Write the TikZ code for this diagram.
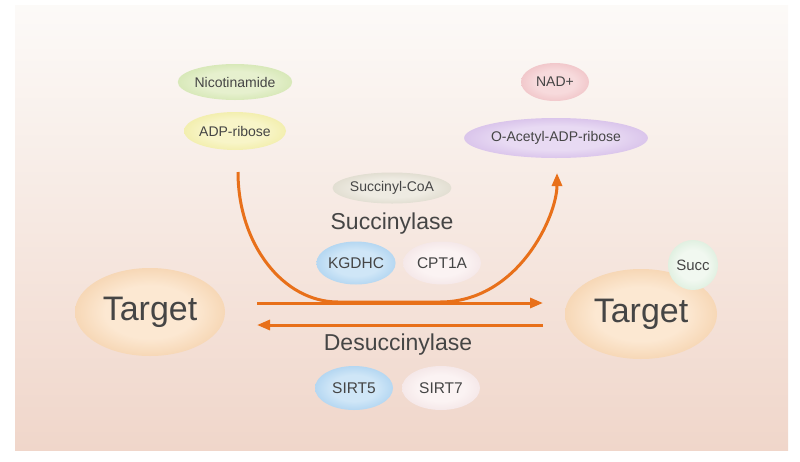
\documentclass[tikz,border=0pt]{standalone}
\usepackage{fontspec}
\setmainfont{Liberation Sans}
\usetikzlibrary{shapes.geometric,arrows.meta}
\definecolor{txt}{HTML}{454545}
\definecolor{arr}{HTML}{E8701A}
\definecolor{bgTop}{HTML}{FCFAF8}
\definecolor{bgBot}{HTML}{F0D6CA}
\definecolor{tgIn}{HTML}{FCE8D2}
\definecolor{tgOut}{HTML}{E9AE70}
\definecolor{grIn}{HTML}{E6F0CE}
\definecolor{grOut}{HTML}{B5D684}
\definecolor{yeIn}{HTML}{F8F5C8}
\definecolor{yeOut}{HTML}{E6DF72}
\definecolor{piIn}{HTML}{F7DADC}
\definecolor{piOut}{HTML}{E49CA2}
\definecolor{vioIn}{HTML}{E8DAF3}
\definecolor{vioOut}{HTML}{B891D8}
\definecolor{beIn}{HTML}{EEEBE2}
\definecolor{beOut}{HTML}{C4BFAA}
\definecolor{blIn}{HTML}{CFE6F7}
\definecolor{blOut}{HTML}{74B2E4}
\definecolor{roIn}{HTML}{FBF3F3}
\definecolor{roOut}{HTML}{E6CDD0}
\definecolor{sgIn}{HTML}{F1F8F0}
\definecolor{sgOut}{HTML}{B9DDBD}
\pgfdeclareradialshading{shTg}{\pgfpointorigin}{color(0bp)=(tgIn); color(15bp)=(tgIn); color(50bp)=(tgOut)}
\pgfdeclareradialshading{shGr}{\pgfpointorigin}{color(0bp)=(grIn); color(15bp)=(grIn); color(50bp)=(grOut)}
\pgfdeclareradialshading{shYe}{\pgfpointorigin}{color(0bp)=(yeIn); color(15bp)=(yeIn); color(50bp)=(yeOut)}
\pgfdeclareradialshading{shPi}{\pgfpointorigin}{color(0bp)=(piIn); color(15bp)=(piIn); color(50bp)=(piOut)}
\pgfdeclareradialshading{shVio}{\pgfpointorigin}{color(0bp)=(vioIn); color(15bp)=(vioIn); color(50bp)=(vioOut)}
\pgfdeclareradialshading{shBe}{\pgfpointorigin}{color(0bp)=(beIn); color(15bp)=(beIn); color(50bp)=(beOut)}
\pgfdeclareradialshading{shBl}{\pgfpointorigin}{color(0bp)=(blIn); color(15bp)=(blIn); color(50bp)=(blOut)}
\pgfdeclareradialshading{shRo}{\pgfpointorigin}{color(0bp)=(roIn); color(15bp)=(roIn); color(50bp)=(roOut)}
\pgfdeclareradialshading{shSg}{\pgfpointorigin}{color(0bp)=(sgIn); color(15bp)=(sgIn); color(50bp)=(sgOut)}
\begin{document}
\begin{tikzpicture}[x=1pt,y=-1pt,
  blob/.style={ellipse, inner sep=0pt, text=txt, font=\fontsize{14}{16}\selectfont},
  enz/.style={blob, minimum width=78pt, minimum height=43pt, font=\fontsize{15.5}{18}\selectfont},
  target/.style={blob, shading=shTg, font=\fontsize{34}{40}\selectfont},
  label/.style={text=txt, inner sep=0pt, font=\fontsize{23}{27}\selectfont},
  conn/.style={draw=arr, line width=3pt, -{Triangle[length=13pt,width=10pt]}}
]
\useasboundingbox (0,0) rectangle (800,461);
\shade[top color=bgTop, bottom color=bgBot] (15,5) rectangle (788,450);

% substrate / product nodes
\node[blob, shading=shGr, minimum width=100pt, minimum height=36pt] (nic) at (235,82) {Nicotinamide};
\node[blob, shading=shYe, minimum width=102pt, minimum height=38pt] (adp) at (235,131) {ADP-ribose};
\node[blob, shading=shPi, minimum width=68pt, minimum height=38pt] (nad) at (555,82) {NAD+};
\node[blob, shading=shVio, minimum width=162pt, minimum height=40pt] (oac) at (556,138) {O-Acetyl-ADP-ribose};
\node[blob, shading=shBe, minimum width=110pt, minimum height=31pt] (scoa) at (392,188) {Succinyl-CoA};

% enzymes
\node[label] (succl) at (392,224) {Succinylase};
\node[enz, shading=shBl] (kgdhc) at (356,263) {KGDHC};
\node[enz, shading=shRo] (cpt) at (442,263) {CPT1A};
\node[label] (desucc) at (398,345) {Desuccinylase};
\node[enz, shading=shBl, minimum height=44pt] (sirt5) at (354,388) {SIRT5};
\node[enz, shading=shRo, minimum height=44pt] (sirt7) at (441,388) {SIRT7};

% targets
\node[target, minimum width=150pt, minimum height=88pt] (tL) at (150,312) {Target};
\node[target, minimum width=152pt, minimum height=90pt] (tR) at (641,314) {Target};
\node[circle, inner sep=0pt, minimum size=50pt, shading=shSg, text=txt, font=\fontsize{15}{18}\selectfont] (succ) at (693,265) {Succ};

% connectors
\coordinate (fs) at (257,303);
\coordinate (fe) at (543,303);
\coordinate (bs) at (543,325);
\coordinate (be) at (257,325);
\coordinate (cs) at (238,172);
\coordinate (ce) at (557,173);
\draw[conn] (fs) -- (fe);
\draw[conn] (bs) -- (be);
\draw[conn] (cs) .. controls (238,244) and (283,302) .. (338,302) -- (440,302) .. controls (518,302) and (557,216) .. (ce);
\end{tikzpicture}
\end{document}
